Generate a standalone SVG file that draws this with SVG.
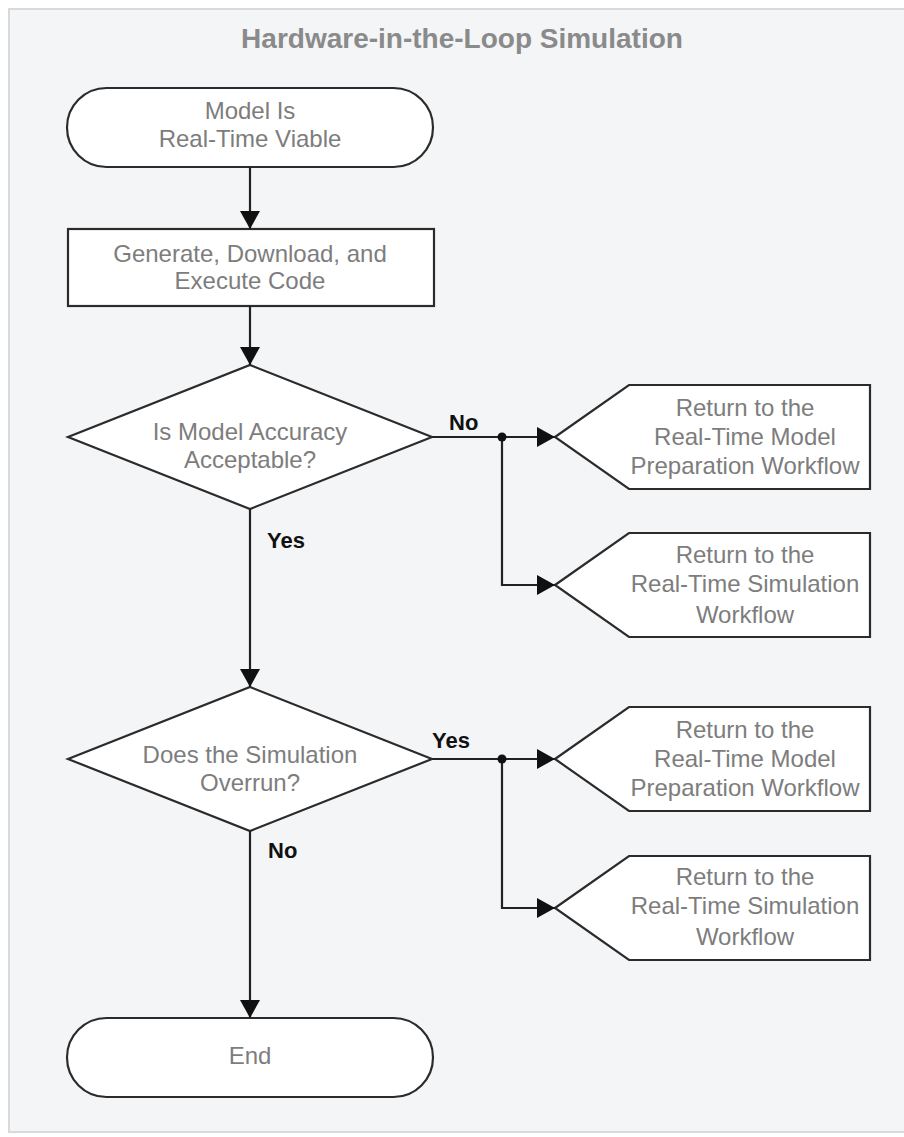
<svg xmlns="http://www.w3.org/2000/svg" width="904" height="1137" viewBox="0 0 904 1137">
<defs>
<marker id="ah" markerUnits="userSpaceOnUse" markerWidth="20" markerHeight="20" refX="18" refY="10" orient="auto">
<path d="M0,0 L18,10 L0,20 z" fill="#111"/>
</marker>
<style>
.node{fill:#fff;stroke:#2b2b2b;stroke-width:2.2}
.t{font-family:"Liberation Sans",Arial,sans-serif;font-size:24px;fill:#7d7d7d;text-anchor:middle}
.lbl{font-family:"Liberation Sans",Arial,sans-serif;font-size:22px;font-weight:bold;fill:#111}
.c{fill:none;stroke:#222;stroke-width:2.2}
</style>
</defs>
<rect x="0" y="0" width="904" height="1137" fill="#fff"/>
<rect x="9" y="9" width="915" height="1123" fill="#f4f5f7" stroke="#d8d9db" stroke-width="2"/>
<text x="462" y="48" style="font-family:'Liberation Sans',Arial,sans-serif;font-size:28px;font-weight:bold;fill:#8a8a8a" text-anchor="middle">Hardware-in-the-Loop Simulation</text>

<g id="start">
<rect class="node" x="67" y="88" width="366" height="79" rx="39.5"/>
<text class="t" x="250" y="119">Model Is</text>
<text class="t" x="250" y="147">Real-Time Viable</text>
</g>
<g id="generate">
<rect class="node" x="68" y="229" width="366" height="77"/>
<text class="t" x="250" y="262">Generate, Download, and</text>
<text class="t" x="250" y="289">Execute Code</text>
</g>
<g id="accuracy">
<polygon class="node" points="250,365 432,437 250,509 68,437"/>
<text class="t" x="250" y="440">Is Model Accuracy</text>
<text class="t" x="250" y="468">Acceptable?</text>
</g>
<g id="overrun">
<polygon class="node" points="250,687 432,759 250,831 68,759"/>
<text class="t" x="250" y="763">Does the Simulation</text>
<text class="t" x="250" y="791">Overrun?</text>
</g>
<g id="end">
<rect class="node" x="67" y="1018" width="366" height="79" rx="39.5"/>
<text class="t" x="250" y="1064">End</text>
</g>
<g id="ret1">
<polygon class="node" points="555,437 629,385 870,385 870,489 629,489"/>
<text class="t" x="745" y="416">Return to the</text>
<text class="t" x="745" y="445">Real-Time Model</text>
<text class="t" x="745" y="474">Preparation Workflow</text>
</g>
<g id="ret2">
<polygon class="node" points="555,585 629,533 870,533 870,637 629,637"/>
<text class="t" x="745" y="563">Return to the</text>
<text class="t" x="745" y="592">Real-Time Simulation</text>
<text class="t" x="745" y="623">Workflow</text>
</g>
<g id="ret3">
<polygon class="node" points="555,759 629,707 870,707 870,811 629,811"/>
<text class="t" x="745" y="738">Return to the</text>
<text class="t" x="745" y="767">Real-Time Model</text>
<text class="t" x="745" y="796">Preparation Workflow</text>
</g>
<g id="ret4">
<polygon class="node" points="555,908 629,856 870,856 870,960 629,960"/>
<text class="t" x="745" y="885">Return to the</text>
<text class="t" x="745" y="914">Real-Time Simulation</text>
<text class="t" x="745" y="945">Workflow</text>
</g>

<g id="connectors">
<line class="c" x1="250" y1="167" x2="250" y2="229" marker-end="url(#ah)"/>
<line class="c" x1="250" y1="306" x2="250" y2="365" marker-end="url(#ah)"/>
<line class="c" x1="250" y1="509" x2="250" y2="687" marker-end="url(#ah)"/>
<line class="c" x1="250" y1="831" x2="250" y2="1018" marker-end="url(#ah)"/>
<line class="c" x1="432" y1="437" x2="555" y2="437" marker-end="url(#ah)"/>
<polyline class="c" points="502,437 502,585 555,585" marker-end="url(#ah)"/>
<circle cx="502" cy="437" r="4.5" fill="#111"/>
<line class="c" x1="432" y1="759" x2="555" y2="759" marker-end="url(#ah)"/>
<polyline class="c" points="502,759 502,908 555,908" marker-end="url(#ah)"/>
<circle cx="502" cy="759" r="4.5" fill="#111"/>
<text class="lbl" x="449" y="430">No</text>
<text class="lbl" x="267" y="548">Yes</text>
<text class="lbl" x="432" y="748">Yes</text>
<text class="lbl" x="268" y="858">No</text>
</g>
</svg>
